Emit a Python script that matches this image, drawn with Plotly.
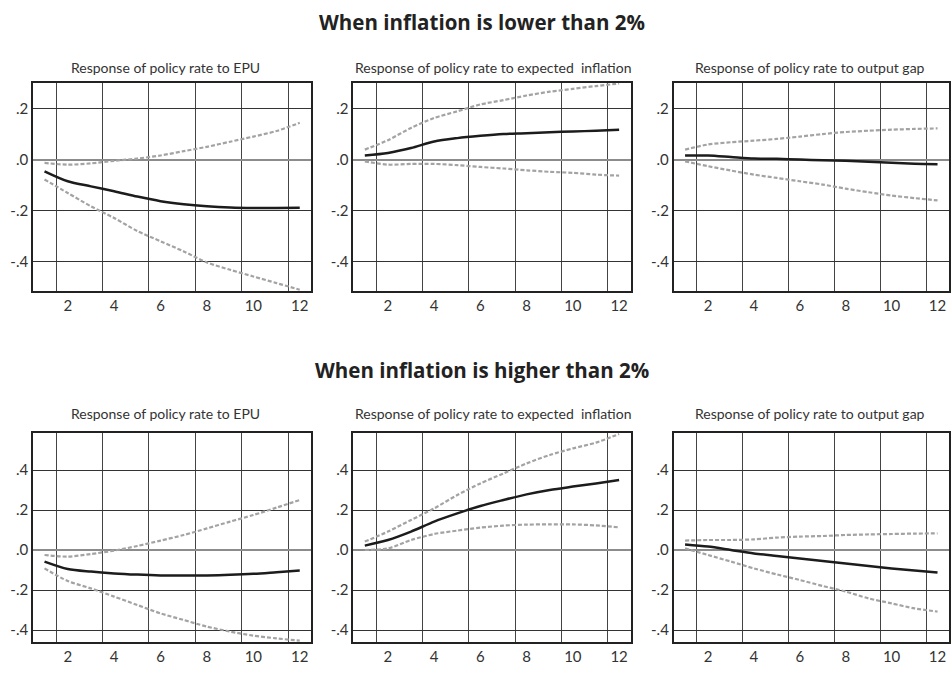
import plotly.graph_objects as go

# Horizon (quarters)
horizon = list(range(1, 13))

# Inflation below 2%: impulse responses of the policy rate
low_epu_mid = [-0.046, -0.085, -0.105, -0.124, -0.145, -0.163, -0.175, -0.183, -0.188, -0.190, -0.190, -0.189]
low_epu_up = [-0.013, -0.020, -0.015, -0.005, 0.004, 0.016, 0.033, 0.050, 0.070, 0.090, 0.112, 0.144]
low_epu_lo = [-0.078, -0.131, -0.183, -0.229, -0.280, -0.320, -0.360, -0.403, -0.432, -0.458, -0.484, -0.510]

low_inf_mid = [0.016, 0.026, 0.045, 0.071, 0.084, 0.093, 0.100, 0.103, 0.107, 0.110, 0.113, 0.117]
low_inf_up = [0.039, 0.076, 0.124, 0.163, 0.189, 0.216, 0.233, 0.251, 0.266, 0.277, 0.288, 0.298]
low_inf_lo = [-0.007, -0.020, -0.017, -0.017, -0.022, -0.029, -0.035, -0.042, -0.048, -0.052, -0.059, -0.063]

low_gap_mid = [0.016, 0.016, 0.010, 0.004, 0.003, 0.000, -0.003, -0.005, -0.009, -0.012, -0.016, -0.018]
low_gap_up = [0.039, 0.059, 0.068, 0.074, 0.081, 0.090, 0.100, 0.108, 0.113, 0.117, 0.120, 0.122]
low_gap_lo = [-0.007, -0.026, -0.043, -0.059, -0.072, -0.085, -0.098, -0.114, -0.128, -0.141, -0.151, -0.160]

# Inflation above 2%
high_epu_mid = [-0.058, -0.095, -0.108, -0.117, -0.123, -0.127, -0.128, -0.127, -0.124, -0.119, -0.111, -0.103]
high_epu_up = [-0.025, -0.033, -0.020, -0.003, 0.020, 0.047, 0.075, 0.108, 0.142, 0.175, 0.212, 0.250]
high_epu_lo = [-0.092, -0.155, -0.192, -0.233, -0.275, -0.317, -0.350, -0.383, -0.408, -0.428, -0.442, -0.453]

high_inf_mid = [0.022, 0.050, 0.092, 0.142, 0.183, 0.220, 0.250, 0.278, 0.300, 0.317, 0.333, 0.350]
high_inf_up = [0.042, 0.092, 0.150, 0.208, 0.275, 0.333, 0.383, 0.433, 0.475, 0.508, 0.537, 0.580]
high_inf_lo = [0.000, 0.008, 0.050, 0.080, 0.097, 0.112, 0.122, 0.127, 0.128, 0.128, 0.123, 0.113]

high_gap_mid = [0.028, 0.017, 0.000, -0.017, -0.030, -0.043, -0.055, -0.067, -0.080, -0.092, -0.102, -0.113]
high_gap_up = [0.047, 0.050, 0.050, 0.053, 0.062, 0.067, 0.070, 0.075, 0.078, 0.080, 0.082, 0.083]
high_gap_lo = [0.008, -0.025, -0.058, -0.092, -0.122, -0.150, -0.180, -0.208, -0.242, -0.267, -0.292, -0.308]

panel_titles = ["Response of policy rate to EPU",
                "Response of policy rate to expected  inflation",
                "Response of policy rate to output gap"]
row_titles = ["When inflation is lower than 2%", "When inflation is higher than 2%"]

x_ticks = [2, 4, 6, 8, 10, 12]
x_grid = [1.5, 3.5, 5.5, 7.5, 9.5, 11.5]
top_ticks = [-0.4, -0.2, 0.0, 0.2]
top_labels = ["-.4", "-.2", ".0", ".2"]
bot_ticks = [-0.4, -0.2, 0.0, 0.2, 0.4]
bot_labels = ["-.4", "-.2", ".0", ".2", ".4"]

panels = [
    (low_epu_mid, low_epu_up, low_epu_lo),
    (low_inf_mid, low_inf_up, low_inf_lo),
    (low_gap_mid, low_gap_up, low_gap_lo),
    (high_epu_mid, high_epu_up, high_epu_lo),
    (high_inf_mid, high_inf_up, high_inf_lo),
    (high_gap_mid, high_gap_up, high_gap_lo),
]

W, H = 951, 700
col_dom = [(33 / W, 312 / W), (354 / W, 632 / W), (675 / W, 1.0)]
row_dom = [(1 - 291 / H, 1 - 83 / H), (1 - 642 / H, 1 - 433 / H)]
row_range = [[-0.515, 0.30], [-0.46, 0.585]]

LIGHT = "Lato, sans-serif"
BAND = "#a3a3a3"
MID = "#1c1c1c"

fig = go.Figure()
layout = {}
for i, (mid, up, lo) in enumerate(panels):
    r, c = divmod(i, 3)
    n = i + 1
    xa = "x" if n == 1 else f"x{n}"
    ya = "y" if n == 1 else f"y{n}"
    for series, color, width, dash in ((up, BAND, 2.2, "4px,2px"),
                                       (lo, BAND, 2.2, "4px,2px"),
                                       (mid, MID, 2.5, "solid")):
        fig.add_trace(go.Scatter(x=horizon, y=series, xaxis=xa, yaxis=ya,
                                 mode="lines", line=dict(color=color, width=width,
                                                         dash=dash, shape="spline",
                                                         smoothing=0.8),
                                 showlegend=False, hoverinfo="skip"))
    layout[f"xaxis{'' if n == 1 else n}"] = dict(
        domain=list(col_dom[c]), anchor=ya, range=[0.5, 12.5],
        tickvals=x_ticks, ticks="", showgrid=False, zeroline=False,
        showline=True, mirror=True, linecolor="#222", linewidth=1.5,
        tickfont=dict(family=LIGHT, size=15, color="#333"),
        minor=dict(tickvals=x_grid, showgrid=True, gridcolor="#444", gridwidth=1, ticks=""),
    )
    layout[f"yaxis{'' if n == 1 else n}"] = dict(
        domain=list(row_dom[r]), anchor=xa, range=row_range[r],
        tickvals=top_ticks if r == 0 else bot_ticks,
        ticktext=top_labels if r == 0 else bot_labels,
        ticks="", showgrid=True, gridcolor="#333", gridwidth=1,
        zeroline=True, zerolinecolor="#8c8c8c", zerolinewidth=1.5,
        showline=True, mirror=True, linecolor="#222", linewidth=1.5,
        tickfont=dict(family=LIGHT, size=15, color="#333"),
    )

annotations = []
title_x = [166, 494, 812]
title_y = [67, 413]
for r in range(2):
    for c in range(3):
        annotations.append(dict(text=panel_titles[c], x=title_x[c] / W, y=1 - title_y[r] / H,
                                xref="paper", yref="paper", showarrow=False,
                                xanchor="center", yanchor="middle",
                                font=dict(family=LIGHT, size=14, color="#333")))
for r, yy in enumerate([22, 370]):
    annotations.append(dict(text=f"<b>{row_titles[r]}</b>", x=483 / W, y=1 - yy / H,
                            xref="paper", yref="paper", showarrow=False,
                            xanchor="center", yanchor="middle",
                            font=dict(family="Open Sans, sans-serif", size=20.5, color="#222")))

fig.update_layout(width=W, height=H, margin=dict(l=0, r=0, t=0, b=0),
                  paper_bgcolor="white", plot_bgcolor="white",
                  annotations=annotations, **layout)

fig.write_html("out.html")
